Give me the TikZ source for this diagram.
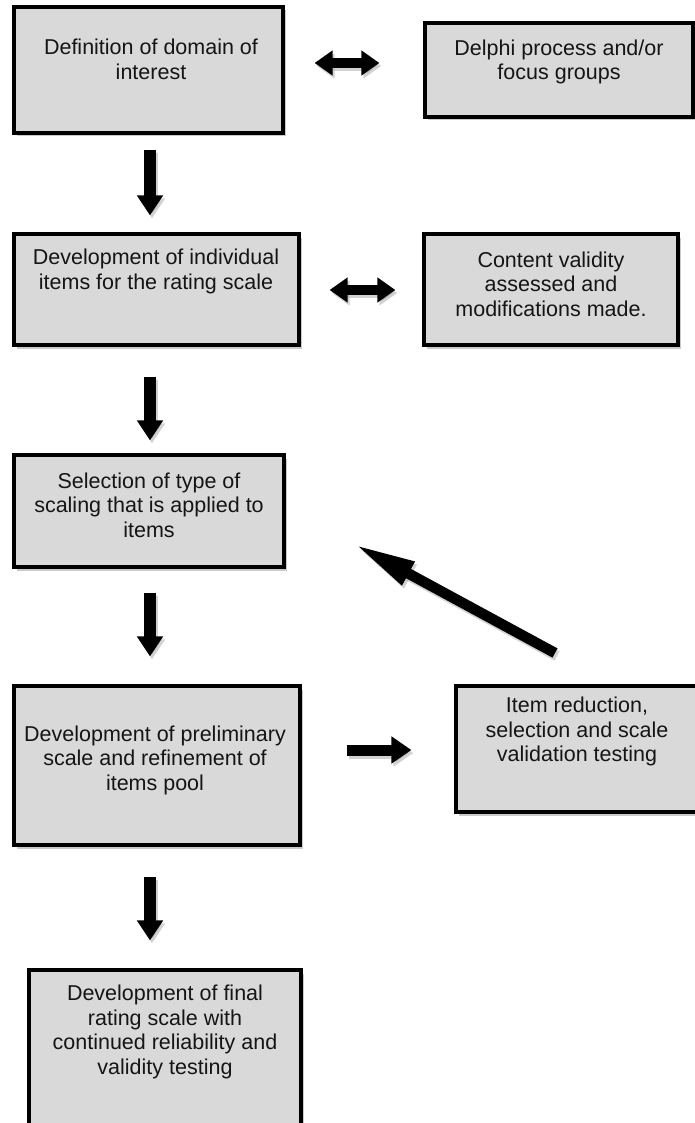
\documentclass[tikz,border=0pt]{standalone}
\usepackage{fontspec}
\setmainfont{Liberation Sans}
\usetikzlibrary{arrows.meta,shadows,calc}
\definecolor{boxfill}{HTML}{D9D9D9}
\definecolor{txtcol}{HTML}{151515}
\tikzset{
  box/.style={draw=black, line width=3.2pt, fill=boxfill, rectangle, inner sep=0pt,
    drop shadow={shadow xshift=2.5pt, shadow yshift=-3.5pt, opacity=0.35, fill=black!60}},
  txt/.style={align=center, font=\fontsize{21.5pt}{24.5pt}\selectfont, text=txtcol, inner sep=0pt},
  vdown/.style={line width=12pt, -{Triangle[length=20pt,width=25pt]}},
  hright/.style={line width=11pt, -{Triangle[length=20pt,width=26pt]}},
  hboth/.style={line width=10pt, {Triangle[length=18pt,width=24pt]}-{Triangle[length=18pt,width=24pt]}},
  diag/.style={line width=10.5pt, -{Triangle[length=62pt,width=24pt]}},
  shadowarrow/.style={draw=black!35, opacity=0.5, transform canvas={shift={(2pt,-3pt)}}}
}
\begin{document}
\begin{tikzpicture}[x=1pt,y=-1pt]
\useasboundingbox (0,0) rectangle (695,1123);

% boxes
\node[box, minimum width=269pt, minimum height=126pt] (b1) at (148.5,70) {};
\node[box, minimum width=268pt, minimum height=94pt] (b2) at (559,70) {};
\node[box, minimum width=285pt, minimum height=111pt] (b3) at (156.5,289.5) {};
\node[box, minimum width=254pt, minimum height=111pt] (b4) at (551,289.5) {};
\node[box, minimum width=270pt, minimum height=112pt] (b5) at (149,511) {};
\node[box, minimum width=286pt, minimum height=159pt] (b6) at (157,765.5) {};
\node[box, minimum width=244pt, minimum height=126pt] (b7) at (578,749) {};
\node[box, minimum width=272pt, minimum height=170pt] (b8) at (165,1055) {};

% texts
\node[txt] (t1) at (151,59.5) {Definition of domain of\\interest};
\node[txt] (t2) at (559,62) {Delphi process and/or\\focus groups};
\node[txt] (t3) at (156,271.5) {Development of individual\\items for the rating scale};
\node[txt] (t4) at (551,284) {Content validity\\assessed and\\modifications made.};
\node[txt] (t5) at (149,505) {Selection of type of\\scaling that is applied to\\items};
\node[txt] (t6) at (155,760) {Development of preliminary\\scale and refinement of\\items pool};
\node[txt] (t7) at (577,731.5) {Item reduction,\\selection and scale\\validation testing};
\node[txt] (t8) at (165,1032) {Development of final\\rating scale with\\continued reliability and\\validity testing};

% helper coordinates
\coordinate (colx) at (150,0);
\coordinate (row1) at (0,63);
\coordinate (row2) at (0,290);
\coordinate (row3) at (0,750);
\coordinate (dtail) at (555,653);
\coordinate (dtip) at (354,544);

% shadows of arrows
\begin{scope}[shadowarrow]
\draw[vdown, shorten <=15pt, shorten >=17pt] (b1.south -| colx) -- (b3.north -| colx);
\draw[vdown, shorten <=30pt, shorten >=13pt] (b3.south -| colx) -- (b5.north -| colx);
\draw[vdown, shorten <=24pt, shorten >=28pt] (b5.south -| colx) -- (b6.north -| colx);
\draw[vdown, shorten <=30pt, shorten >=28pt] (b6.south -| colx) -- (b8.north -| colx);
\draw[hboth, shorten <=30pt, shorten >=44pt] (b1.east |- row1) -- (b2.west |- row1);
\draw[hboth, shorten <=29pt, shorten >=27pt] (b3.east |- row2) -- (b4.west |- row2);
\draw[hright, shorten <=45pt, shorten >=43pt] (b6.east |- row3) -- (b7.west |- row3);
\draw[diag] (dtail) -- (dtip);
\end{scope}

% arrows
\draw[vdown, shorten <=15pt, shorten >=17pt] (b1.south -| colx) -- (b3.north -| colx);
\draw[vdown, shorten <=30pt, shorten >=13pt] (b3.south -| colx) -- (b5.north -| colx);
\draw[vdown, shorten <=24pt, shorten >=28pt] (b5.south -| colx) -- (b6.north -| colx);
\draw[vdown, shorten <=30pt, shorten >=28pt] (b6.south -| colx) -- (b8.north -| colx);
\draw[hboth, shorten <=30pt, shorten >=44pt] (b1.east |- row1) -- (b2.west |- row1);
\draw[hboth, shorten <=29pt, shorten >=27pt] (b3.east |- row2) -- (b4.west |- row2);
\draw[hright, shorten <=45pt, shorten >=43pt] (b6.east |- row3) -- (b7.west |- row3);
\draw[diag] (dtail) -- (dtip);
\end{tikzpicture}
\end{document}
